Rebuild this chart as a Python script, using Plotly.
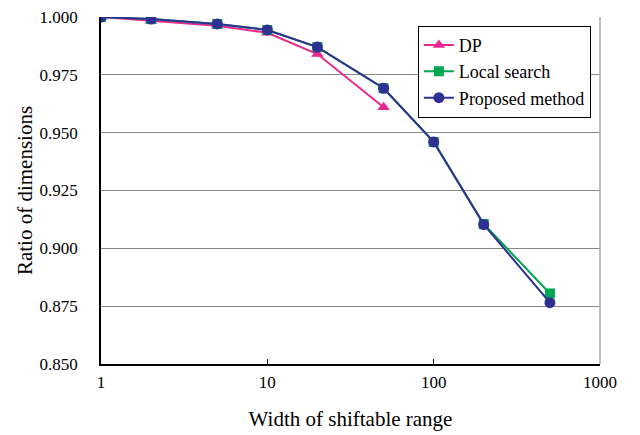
import plotly.graph_objects as go

widths = [1, 2, 5, 10, 20, 50, 100, 200, 500]
dp_widths = [1, 2, 5, 10, 20, 50]
dp = [1.000, 0.9983, 0.9962, 0.9932, 0.984, 0.961]
local_search = [1.000, 0.9991, 0.997, 0.9944, 0.987, 0.9692, 0.946, 0.9105, 0.8805]
proposed = [1.000, 0.9991, 0.997, 0.9944, 0.987, 0.9692, 0.946, 0.9103, 0.8765]
y_ticks = [0.850, 0.875, 0.900, 0.925, 0.950, 0.975, 1.000]
x_ticks = [1, 10, 100, 1000]

font = "Liberation Serif"

fig = go.Figure()
fig.add_trace(go.Scatter(x=dp_widths, y=dp, name="DP", mode="lines+markers",
                         line=dict(color="#e8288c", width=2),
                         marker=dict(symbol="triangle-up", size=11, color="#e8288c")))
fig.add_trace(go.Scatter(x=widths, y=local_search, name="Local search", mode="lines+markers",
                         line=dict(color="#00a650", width=2),
                         marker=dict(symbol="square", size=10, color="#00a650")))
fig.add_trace(go.Scatter(x=widths, y=proposed, name="Proposed method", mode="lines+markers",
                         line=dict(color="#2e3192", width=2),
                         marker=dict(symbol="circle", size=11, color="#2e3192")))

fig.update_layout(
    width=640, height=435,
    margin=dict(l=93, r=48, t=9, b=79, autoexpand=False),
    paper_bgcolor="white", plot_bgcolor="white",
    font=dict(family=font, size=17, color="black"),
    showlegend=True,
    legend=dict(x=0.635, y=0.975, xanchor="left", yanchor="top",
                bordercolor="black", borderwidth=1, bgcolor="white",
                font=dict(family=font, size=18), tracegroupgap=0,
                itemwidth=30),
    xaxis=dict(type="log", range=[0, 3], tickvals=x_ticks,
               ticktext=[str(v) for v in x_ticks], automargin=False,
               showgrid=False, showline=True, linecolor="black", linewidth=1.5,
               ticks="inside", ticklen=5, tickcolor="black",
               ticklabelstandoff=2, ticklabeloverflow="allow",
               mirror=False, zeroline=False,
               title=dict(text="Width of shiftable range", font=dict(size=21), standoff=20),
               tickfont=dict(size=17)),
    yaxis=dict(range=[0.85, 1.0], tickvals=y_ticks, automargin=False,
               ticktext=["%.3f" % v for v in y_ticks],
               showgrid=True, gridcolor="#888888", gridwidth=1.2,
               showline=True, linecolor="black", linewidth=1.5,
               ticks="", ticklabelstandoff=18, ticklabeloverflow="allow",
               zeroline=False,
               title=dict(text="Ratio of dimensions", font=dict(size=21), standoff=1),
               tickfont=dict(size=17)),
)
fig.add_shape(type="line", xref="paper", yref="paper", x0=1, x1=1, y0=0, y1=1,
              line=dict(color="#aaaaaa", width=1.5))

fig.write_html("out.html")
